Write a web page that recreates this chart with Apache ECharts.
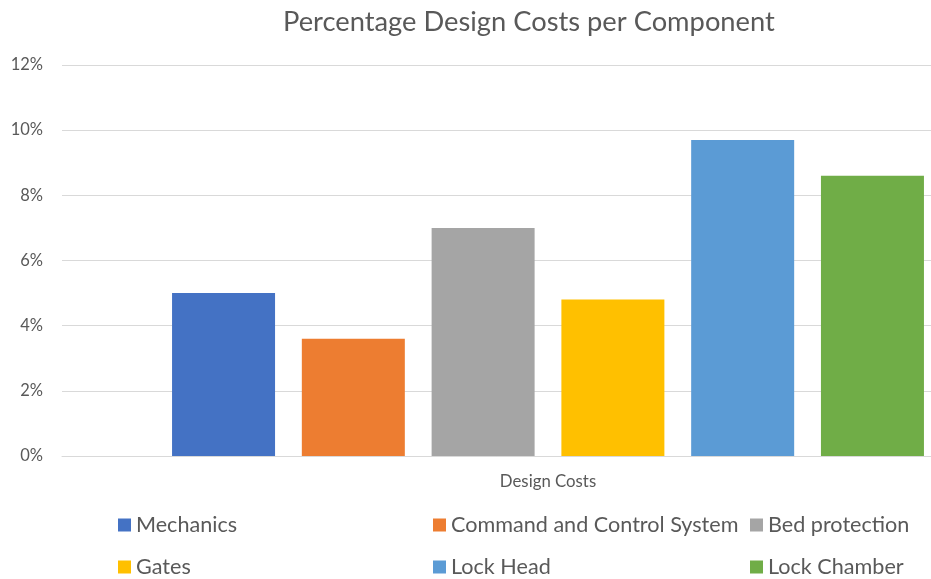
<!DOCTYPE html>
<html>
<head>
<meta charset="utf-8">
<script src="https://cdn.jsdelivr.net/npm/echarts@6/dist/echarts.min.js"></script>
<style>
  html, body { margin: 0; padding: 0; background: #fff; }
  #chart { width: 931px; height: 579px; }
</style>
</head>
<body>
<div id="chart"></div>
<script>
var categories = ['Design Costs'];
var seriesNames = ['Mechanics', 'Command and Control System', 'Bed protection', 'Gates', 'Lock Head', 'Lock Chamber'];
var seriesValues = [5.0, 3.6, 7.0, 4.8, 9.7, 8.6];
var colors = ['#4472C4', '#ED7D31', '#A5A5A5', '#FFC000', '#5B9BD5', '#70AD47'];
var yTicks = [0, 2, 4, 6, 8, 10, 12];

var font = 'Lato, "Open Sans", sans-serif';

var legendPos = [
    {left: 118, top: 514},
    {left: 433, top: 514},
    {left: 750, top: 514},
    {left: 118, top: 556},
    {left: 433, top: 556},
    {left: 750, top: 556}
];

var chart = echarts.init(document.getElementById('chart'));

chart.setOption({
    animation: false,
    title: {
        text: 'Percentage Design Costs per Component',
        left: 278,
        top: 4,
        textStyle: {
            fontFamily: font,
            fontSize: 27.3,
            fontWeight: 'normal',
            color: '#595959'
        }
    },
    legend: seriesNames.map(function (name, i) {
        return {
            data: [name],
            left: legendPos[i].left,
            top: legendPos[i].top,
            padding: 0,
            itemWidth: 13,
            itemHeight: 13,
            icon: 'rect',
            itemGap: 6,
            textStyle: {
                fontFamily: font,
                fontSize: 21.6,
                color: '#595959'
            }
        };
    }),
    grid: {
        left: 62,
        top: 65,
        width: 972,
        height: 391,
        outerBoundsMode: 'none'
    },
    xAxis: {
        type: 'category',
        data: categories,
        axisLine: {show: true, lineStyle: {color: '#d9d9d9'}},
        axisTick: {show: false},
        axisLabel: {
            margin: 17,
            fontFamily: font,
            fontSize: 16.8,
            color: '#595959'
        }
    },
    yAxis: {
        type: 'value',
        min: yTicks[0],
        max: yTicks[yTicks.length - 1],
        interval: 2,
        axisLine: {show: false},
        axisTick: {show: false},
        splitLine: {lineStyle: {color: '#d9d9d9', width: 1}},
        axisLabel: {
            margin: 19,
            formatter: '{value}%',
            fontFamily: font,
            fontSize: 16.5,
            color: '#595959'
        }
    },
    series: seriesNames.map(function (name, i) {
        return {
            name: name,
            type: 'bar',
            data: [seriesValues[i]],
            barWidth: 103,
            barGap: '26%',
            itemStyle: {color: colors[i]}
        };
    })
});
</script>
</body>
</html>
